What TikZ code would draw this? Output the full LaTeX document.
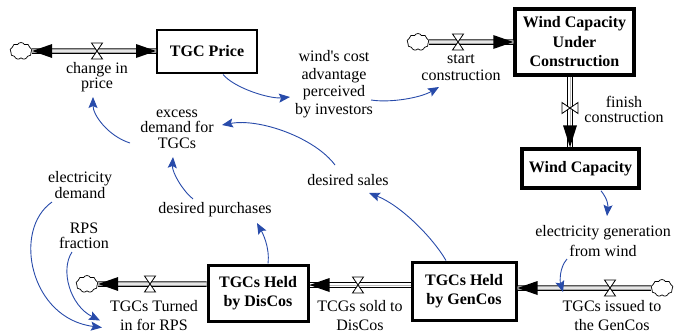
\documentclass[tikz,border=0pt]{standalone}
\usepackage{fontspec}
\setmainfont{Liberation Serif}
\usetikzlibrary{arrows.meta,shapes.symbols,calc}

\definecolor{linkblue}{RGB}{40,75,170}

\tikzset{
  stock/.style={draw=black, fill=white, align=center, inner sep=0pt,
    font=\fontsize{16}{19.5}\selectfont\bfseries},
  lbl/.style={align=center, inner sep=1pt, text=black},
  link/.style={draw=linkblue, line width=0.9pt,
    -{Stealth[length=11pt,width=9pt,inset=2pt]}},
  pipeout/.style={draw=black, line width=5.5pt},
  pipein/.style={draw=white, line width=3.2pt},
  pipemid/.style={draw=gray!55, line width=0.8pt},
  valvest/.style={draw=black, fill=white, line width=0.8pt, line join=miter},
  cloudst/.style={cloud, cloud puffs=9, cloud puff arc=120, aspect=1.35,
    draw=black, fill=white, line width=0.7pt, inner sep=0pt,
    minimum width=22pt, minimum height=17pt},
}

% a double-line pipe between two points
\newcommand{\pipeline}[2]{%
  \draw[pipeout] #1 -- #2;
  \draw[pipein] #1 -- #2;
  \draw[pipemid] #1 -- #2;}
% filled flow heads (apex at the given point)
\newcommand{\tipR}[1]{\fill[black] #1 -- ++(-20,-7) -- ++(0,14) -- cycle;}
\newcommand{\tipL}[1]{\fill[black] #1 -- ++(20,-7) -- ++(0,14) -- cycle;}
\newcommand{\tipD}[1]{\fill[black] #1 -- ++(-7,-22) -- ++(14,0) -- cycle;}
% valves: horizontal pipe and vertical pipe
\newcommand{\valveH}[1]{\filldraw[valvest, shift={(#1)}] (-5.5,-8) -- (5.5,-8) -- (-5.5,8) -- (5.5,8) -- cycle;}
\newcommand{\valveV}[1]{\filldraw[valvest, shift={(#1)}] (-8,-5.5) -- (-8,5.5) -- (8,-5.5) -- (8,5.5) -- cycle;}

\begin{document}
\begin{tikzpicture}[x=1pt, y=-1pt]
\useasboundingbox (0,0) rectangle (674,333);

% ---------- stocks ----------
\node[stock, line width=2pt, minimum width=100pt, minimum height=43pt] (price) at (207,51) {TGC Price};
\node[stock, line width=3.5pt, minimum width=119pt, minimum height=66pt] (wcuc) at (574.5,42) {Wind Capacity\\Under\\Construction};
\node[stock, line width=3.5pt, minimum width=117pt, minimum height=39pt] (wc) at (580.5,168.5) {Wind Capacity};
\node[stock, line width=3pt, minimum width=104pt, minimum height=58pt] (gencos) at (464,291) {TGCs Held\\by GenCos};
\node[stock, line width=3pt, minimum width=100pt, minimum height=56pt] (discos) at (258,293) {TGCs Held\\by DisCos};

% ---------- sources and sinks ----------
\node[cloudst] (c1) at (21,51) {};
\node[cloudst] (c2) at (418,42) {};
\node[cloudst] (c3) at (87,284) {};
\node[cloudst] (c4) at (662,288) {};

% ---------- valve positions ----------
\coordinate (v1) at (97,51);
\coordinate (v2) at (458,42);
\coordinate (v3) at (570,108);
\coordinate (v4) at (610,288);
\coordinate (v5) at (358,285);
\coordinate (v6) at (150,284);

% ---------- pipes ----------
\pipeline{(c1.east)}{(price.west |- v1)}
\tipL{(c1.east)}
\tipR{(price.west |- v1)}
\valveH{v1}

\pipeline{(c2.east)}{(wcuc.west |- v2)}
\tipR{(wcuc.west |- v2)}
\valveH{v2}

\pipeline{(wcuc.south -| v3)}{(wc.north -| v3)}
\tipD{(wc.north -| v3)}
\valveV{v3}

\pipeline{(c4.west)}{(gencos.east |- v4)}
\tipL{(gencos.east |- v4)}
\valveH{v4}

\pipeline{(gencos.west |- v5)}{(discos.east |- v5)}
\tipL{(discos.east |- v5)}
\valveH{v5}

\pipeline{(discos.west |- v6)}{(c3.east)}
\tipL{(c3.east)}
\valveH{v6}

% ---------- auxiliaries and flow labels ----------
\begin{scope}[every node/.append style={lbl}]
\node[font=\fontsize{16}{14.5}\selectfont] (chg) at (97,77) {change in\\price};
\node[font=\fontsize{16}{17.5}\selectfont] (wind) at (334,84) {wind\textquotesingle s cost\\advantage\\perceived\\by investors};
\node[font=\fontsize{16}{17}\selectfont] (start) at (461,68) {start\\construction};
\node[font=\fontsize{16}{15}\selectfont] (finish) at (624,109) {finish\\construction};
\node[font=\fontsize{16}{19.5}\selectfont] (elecgen) at (603,241) {electricity generation\\from wind};
\node[font=\fontsize{16}{19}\selectfont] (issued) at (612,315.5) {TGCs issued to\\the GenCos};
\node[font=\fontsize{16}{19}\selectfont] (sold) at (360,315.5) {TCGs sold to\\DisCos};
\node[font=\fontsize{16}{19}\selectfont] (turned) at (154,315.5) {TGCs Turned\\in for RPS};
\node[font=\fontsize{16}{19}\selectfont] (dp) at (215,210) {desired purchases};
\node[font=\fontsize{16}{19}\selectfont] (ds) at (348,180) {desired sales};
\node[font=\fontsize{16}{15.5}\selectfont] (excess) at (177,129) {excess\\demand for\\TGCs};
\node[font=\fontsize{16}{16}\selectfont] (elecd) at (80,185) {electricity\\demand};
\node[font=\fontsize{16}{14.5}\selectfont] (rps) at (84,236) {RPS\\fraction};
\end{scope}

% ---------- information links ----------
\draw[link] ($(price.south)+(16,1)$) .. controls +(12,14) and +(-20,2) .. ($(wind.center)+(-44,13)$);
\draw[link] ($(wind.center)+(37,16)$) .. controls +(19,3) and +(-19,11) .. ($(start.center)+(-22,19)$);
\draw[link] ($(wc.south)+(20.5,1)$) .. controls +(7,9) and +(1,-11) .. ($(elecgen.center)+(4,-25)$);
\coordinate (issuein) at (563,292);
\draw[link] ($(elecgen.center)+(-36,18)$) .. controls +(-8,9) and +(-3,-10) .. (issuein);
\draw[link] ($(gencos.north)+(-18,0)$) .. controls +(-14,-24) and +(31,12) .. ($(ds.center)+(21,13)$);
\draw[link] ($(ds.center)+(-13,-15)$) .. controls +(-20,-27) and +(38,-7) .. ($(excess.center)+(45,-4)$);
\draw[link] ($(discos.north)+(10,0)$) .. controls +(2,-17) and +(5,9) .. ($(dp.center)+(42,13)$);
\draw[link] ($(dp.center)+(-22,-11)$) .. controls +(-11,-9) and +(-1,15) .. ($(excess.center)+(-4,28)$);
\draw[link] ($(excess.center)+(-47,14)$) .. controls +(-22,-7) and +(0,18) .. ($(chg.center)+(-4,20)$);
\draw[link] ($(elecd.center)+(-28,17)$) .. controls +(-40,28) and +(-72,-9) .. ($(turned.center)+(-52,12)$);
\draw[link] ($(rps.center)+(-12,16)$) .. controls +(-12,18) and +(-30,-15) .. ($(turned.center)+(-54,5)$);
\end{tikzpicture}
\end{document}
